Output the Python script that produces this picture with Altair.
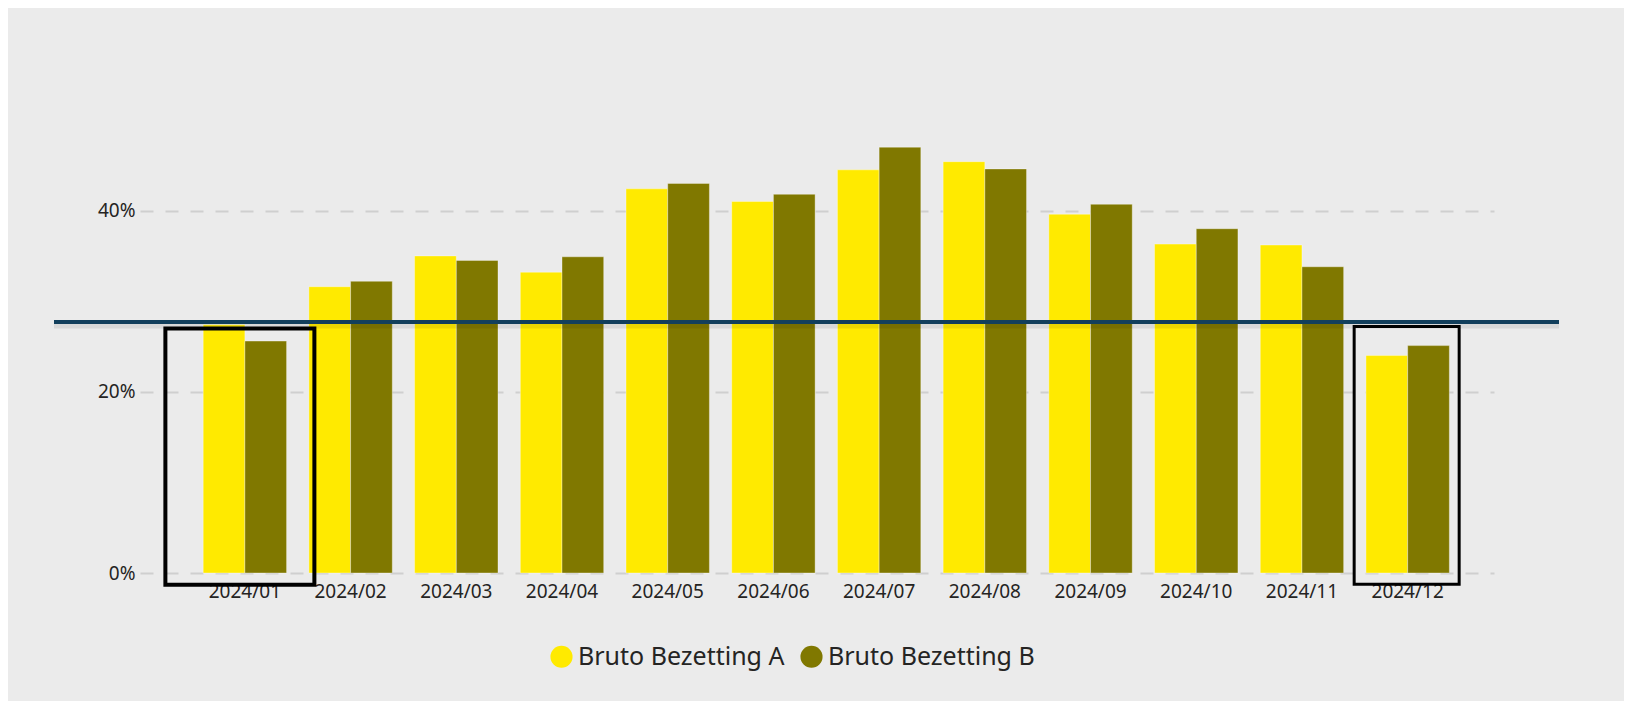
import altair as alt
import pandas as pd

months = ["2024/01", "2024/02", "2024/03", "2024/04", "2024/05", "2024/06",
          "2024/07", "2024/08", "2024/09", "2024/10", "2024/11", "2024/12"]
series_names = ["Bruto Bezetting A", "Bruto Bezetting B"]
values_a = [0.274, 0.316, 0.350, 0.332, 0.424, 0.410, 0.445, 0.454, 0.396, 0.363, 0.362, 0.240]
values_b = [0.256, 0.322, 0.345, 0.349, 0.430, 0.418, 0.470, 0.446, 0.407, 0.380, 0.338, 0.251]
reference_value = [0.277]
y_ticks = [0.0, 0.2, 0.4]

# highlight boxes (annotation)
box_months = ["2024/01", "2024/12"]
box_top = [0.270, 0.272]
box_bottom = [-0.013, -0.0125]

colors = ["#FFEA00", "#807800"]

rows = []
for m, a, b in zip(months, values_a, values_b):
    rows.append({"month": m, "series": series_names[0], "value": a})
    rows.append({"month": m, "series": series_names[1], "value": b})
df = pd.DataFrame(rows)
ref_df = pd.DataFrame({"ref": reference_value})
box_df = pd.DataFrame({"month": box_months, "top": box_top, "bottom": box_bottom})

FONT = "Noto Sans"
W, H = 1354, 453

x_scale = alt.Scale(domain=months, paddingInner=0.211, paddingOuter=0.51, align=0.586)
y_scale = alt.Scale(domain=[0, 0.5], nice=False, zero=True)

bars = alt.Chart(df).mark_bar(stroke="white", strokeOpacity=0.35, strokeWidth=1).encode(
    x=alt.X("month:N", scale=x_scale, sort=months, title=None,
            axis=alt.Axis(labelAngle=0, domain=False, ticks=False, labelFont=FONT,
                          labelFontSize=19, labelColor="#252423", labelPadding=9)),
    xOffset=alt.XOffset("series:N", sort=series_names),
    y=alt.Y("value:Q", scale=y_scale, title=None,
            axis=alt.Axis(values=y_ticks, format=".0%", domain=False, ticks=False,
                          labelFont=FONT, labelFontSize=19, labelColor="#252423",
                          labelPadding=5, grid=True, gridDash=[13, 12],
                          gridColor="#CFCFCF", gridWidth=2)),
    color=alt.Color("series:N", sort=series_names,
                    scale=alt.Scale(domain=series_names, range=colors),
                    legend=alt.Legend(title=None, orient="none", direction="horizontal",
                                      legendX=409, legendY=524, symbolType="circle",
                                      symbolSize=490, symbolStrokeWidth=0,
                                      labelFont=FONT, labelFontSize=25, labelLimit=600,
                                      labelColor="#252423", labelOffset=4,
                                      columnPadding=14, padding=0)),
)

box_jan = alt.Chart(box_df.iloc[[0]]).mark_bar(
    width=149, xOffset=-5, fillOpacity=0, stroke="black", strokeWidth=4
).encode(
    x=alt.X("month:N", scale=x_scale, sort=months),
    y=alt.Y("top:Q", scale=y_scale),
    y2="bottom:Q",
)

box_dec = alt.Chart(box_df.iloc[[1]]).mark_bar(
    width=105, xOffset=-1, fillOpacity=0, stroke="black", strokeWidth=3
).encode(
    x=alt.X("month:N", scale=x_scale, sort=months),
    y=alt.Y("top:Q", scale=y_scale),
    y2="bottom:Q",
)

shadow = alt.Chart(ref_df).mark_rule(strokeWidth=5, color="#000000", opacity=0.08, yOffset=4).encode(
    y=alt.Y("ref:Q", scale=y_scale),
    x=alt.value(-86), x2=alt.value(W + 65),
)

ref_line = alt.Chart(ref_df).mark_rule(strokeWidth=4, color="#123F5C").encode(
    y=alt.Y("ref:Q", scale=y_scale),
    x=alt.value(-86), x2=alt.value(W + 65),
)

chart = alt.layer(bars, box_jan, box_dec, shadow, ref_line).properties(
    width=W, height=H,
    autosize=alt.AutoSizeParams(type="none"),
    padding={"left": 132, "top": 112, "right": 130, "bottom": 128},
    background="#EBEBEB",
).configure_view(stroke=None)

chart.save("out.html", embed_options={"renderer": "svg", "actions": False})
